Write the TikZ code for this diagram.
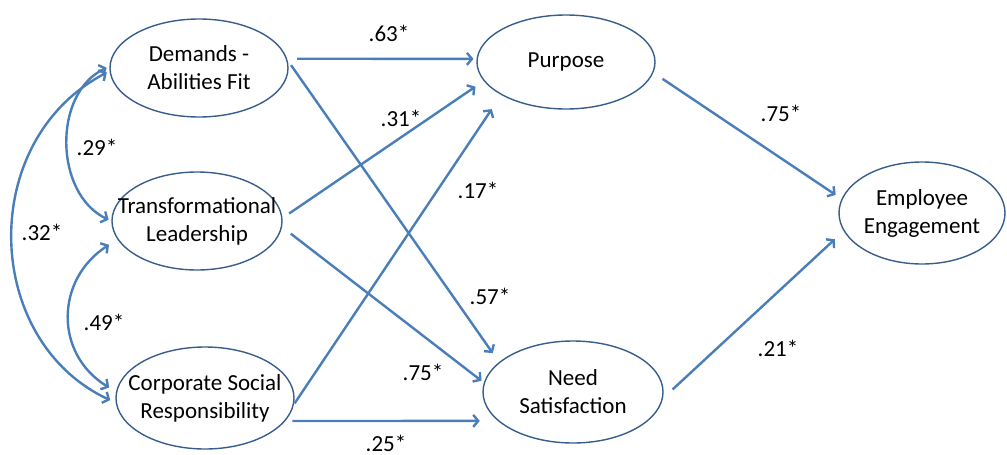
\documentclass[tikz,border=0pt]{standalone}
\usepackage{fontspec}
\setmainfont{Carlito}
\usetikzlibrary{shapes.geometric,arrows.meta}
\definecolor{pathblue}{HTML}{4A7EBB}
\definecolor{rimblue}{HTML}{385D8A}
\begin{document}
\begin{tikzpicture}[x=1pt,y=-1pt,
  every node/.style={font=\fontsize{23}{28}\selectfont, text=black},
  construct/.style={ellipse, draw=rimblue, line width=1.4pt, fill=white,
    inner sep=0pt},
  caption/.style={label={[align=center, inner sep=0pt]center:#1}},
  path/.style={draw=pathblue, line width=2.4pt,
    -{Straight Barb[length=5pt,width=12pt]}},
  covar/.style={draw=pathblue, line width=2.4pt,
    {Straight Barb[length=5pt,width=12pt]}-{Straight Barb[length=5pt,width=12pt]}},
  coef/.style={inner sep=1pt}]
\useasboundingbox (0,0) rectangle (1007,455);

% latent constructs
\node[construct, minimum width=178pt, minimum height=98pt,
  caption={Demands -\\Abilities Fit}] (daf) at (199,68) {};
\node[construct, minimum width=170pt, minimum height=98pt,
  caption={Transformational\\Leadership}] (tl) at (197,221) {};
\node[construct, minimum width=178pt, minimum height=102pt,
  caption={Corporate Social\\Responsibility}] (csr) at (205,398) {};
\node[construct, minimum width=178pt, minimum height=94pt,
  caption={Purpose}] (pur) at (566,62) {};
\node[construct, minimum width=180pt, minimum height=102pt,
  caption={Need\\Satisfaction}] (need) at (573,392) {};
\node[construct, minimum width=166pt, minimum height=102pt,
  caption={Employee\\Engagement}] (ee) at (922,213) {};

% structural paths
\draw[path, shorten <=10pt, shorten >=3pt]  (daf.6)  -- (pur.178);
\draw[path, shorten <=6pt,  shorten >=11pt] (daf.5)  -- (need.158);
\draw[path, shorten <=8pt,  shorten >=10pt] (tl.2)   -- (pur.193.4);
\draw[path, shorten <=11pt, shorten >=3pt]  (tl.-4)  -- (need.174.8);
\draw[path, shorten <=1pt,  shorten >=17pt] (csr.-4) -- (pur.207.1);
\draw[path, shorten <=7pt,  shorten >=18pt] (csr.-16) -- (need.201);
\draw[path, shorten <=11pt, shorten >=7pt]  (pur.-7.7) -- (ee.170.2);
\draw[path, shorten <=13pt, shorten >=12pt] (need.-4.5) -- (ee.193.5);

% correlations among the exogenous constructs
\draw[covar, shorten <=3pt, shorten >=3pt]
  (daf.179) .. controls +(-57,27) and +(-57,-27) .. (tl.west);
\draw[covar, shorten <=10pt, shorten >=8pt]
  (tl.193) .. controls +(-62,40) and +(-62,-38) .. (csr.176);
\draw[covar, shorten <=3pt, shorten >=6pt]
  (daf.182) .. controls +(-133,70) and +(-133,-62) .. (csr.183);

% path coefficients
\node[coef] (c1)  at (389,33)  {.63*};
\node[coef] (c2)  at (401,118) {.31*};
\node[coef] (c3)  at (478,190) {.17*};
\node[coef] (c4)  at (490,296) {.57*};
\node[coef] (c5)  at (423,372) {.75*};
\node[coef] (c6)  at (386,443) {.25*};
\node[coef] (c7)  at (781,113) {.75*};
\node[coef] (c8)  at (778,348) {.21*};
\node[coef] (c9)  at (97,147)  {.29*};
\node[coef] (c10) at (104,322) {.49*};
\node[coef] (c11) at (42,232)  {.32*};
\end{tikzpicture}
\end{document}
